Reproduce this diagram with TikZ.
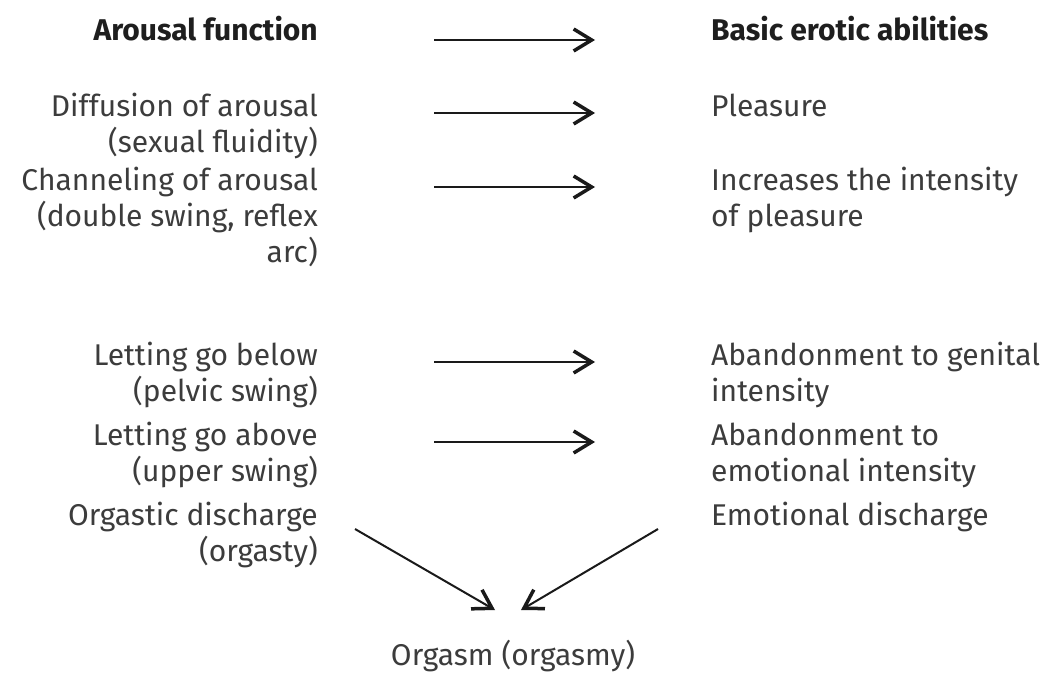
\documentclass[tikz,border=0pt]{standalone}
\usepackage{fontspec}
\setmainfont{Fira Sans}
\usetikzlibrary{arrows.meta}
\definecolor{txt}{HTML}{3C3C3C}
\definecolor{hdr}{HTML}{1E1E1E}
\definecolor{arc}{HTML}{1A1A1A}
\newcommand{\fs}{\rule{0pt}{26pt}}
\begin{document}
\begin{tikzpicture}[x=1pt,y=-1pt,
  lbl/.style={inner sep=0pt, font=\fontsize{30}{36}\selectfont, text=txt},
  lft/.style={lbl, anchor=north east, align=right},
  rgt/.style={lbl, anchor=north west, align=left},
  hd/.style={inner sep=0pt, font=\fontsize{30}{36}\selectfont\bfseries, text=hdr},
  arrw/.style={draw=arc, line width=2pt, -{Straight Barb[length=18pt,width=22pt,line width=3.5pt]}}
]
\useasboundingbox (0,0) rectangle (1062,679);
\fill[white] (0,0) rectangle (1062,679);
% headers (north = baseline - 26)
\node[hd, anchor=north east] (hl) at (318,14) {\fs Arousal function};
\node[hd, anchor=north west] (hr) at (711,14) {\fs Basic erotic abilities};
% left column
\node[lft] (l1) at (318,90)  {\fs Diffusion of arousal\\(sexual fluidity)};
\node[lft] (l2) at (318,164) {\fs Channeling of arousal\\(double swing, reflex\\arc)};
\node[lft] (l3) at (318,339) {\fs Letting go below\\(pelvic swing)};
\node[lft] (l4) at (318,419) {\fs Letting go above\\(upper swing)};
\node[lft] (l5) at (318,499) {\fs Orgastic discharge\\(orgasty)};
% right column
\node[rgt] (r1) at (711,90)  {\fs Pleasure};
\node[rgt] (r2) at (711,164) {\fs Increases the intensity\\of pleasure};
\node[rgt] (r3) at (711,339) {\fs Abandonment to genital\\intensity};
\node[rgt] (r4) at (711,419) {\fs Abandonment to\\emotional intensity};
\node[rgt] (r5) at (711,499) {\fs Emotional discharge};
% bottom
\node[lbl, anchor=north] (o) at (513,639) {\fs Orgasm (orgasmy)};
% arrow ends
\coordinate (a0s) at (434,40);  \coordinate (a0e) at (595,40);
\coordinate (a1s) at (434,113); \coordinate (a1e) at (595,113);
\coordinate (a2s) at (434,187); \coordinate (a2e) at (595,187);
\coordinate (a3s) at (434,362); \coordinate (a3e) at (595,362);
\coordinate (a4s) at (434,442); \coordinate (a4e) at (595,442);
\coordinate (dls) at (355,529); \coordinate (dle) at (495,610);
\coordinate (drs) at (658,529); \coordinate (dre) at (521,610);
\draw[arrw] (a0s) -- (a0e);
\draw[arrw] (a1s) -- (a1e);
\draw[arrw] (a2s) -- (a2e);
\draw[arrw] (a3s) -- (a3e);
\draw[arrw] (a4s) -- (a4e);
\draw[arrw] (dls) -- (dle);
\draw[arrw] (drs) -- (dre);
\end{tikzpicture}
\end{document}
